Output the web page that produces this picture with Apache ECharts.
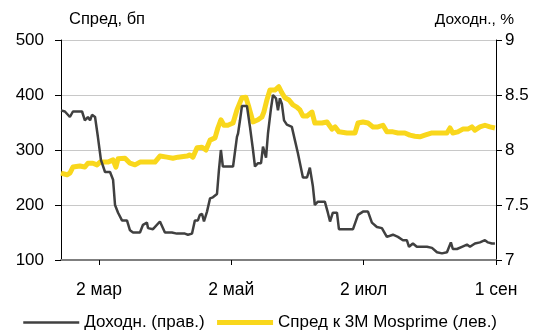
<!DOCTYPE html>
<html>
<head>
<meta charset="utf-8">
<script src="https://cdn.jsdelivr.net/npm/echarts@6/dist/echarts.min.js"></script>
<style>
  html, body { margin: 0; padding: 0; background: #fff; }
  #chart { width: 550px; height: 335px; }
</style>
</head>
<body>
<div id="chart"></div>
<script>
// x = day of year (0 = 1 Jan)
const tickDays = [60, 121, 182, 243];
const tickLabels = ['2 мар', '2 май', '2 июл', '1 сен'];

// yield, % (right axis)
const yieldDays = [42.5, 44.3, 46.6, 48.0, 52.2, 53.5, 54.9, 55.9, 56.8, 58.2, 59.5, 60.9, 62.8, 65.1,
  66.5, 67.4, 68.8, 70.6, 72.9, 74.3, 75.7, 78.9, 80.3, 82.1, 82.6, 84.9, 88.1, 90.4, 93.6, 95.9,
  97.3, 99.6, 101.0, 102.9, 104.2, 105.6, 106.5, 107.5, 108.4, 109.8, 110.2, 111.2, 112.5, 114.4,
  115.3, 116.2, 117.1, 119.4, 121.8, 123.6, 124.1, 125.0, 125.9, 128.2, 129.6, 131.0, 131.9, 133.3,
  134.7, 135.6, 137.0, 137.9, 139.3, 140.2, 141.6, 142.5, 143.4, 144.3, 145.3, 146.6, 148.9, 150.3,
  151.7, 152.6, 154.0, 155.9, 157.2, 158.6, 159.5, 160.9, 164.1, 165.5, 166.5, 167.8, 169.7, 170.6,
  173.4, 177.1, 179.4, 181.7, 184.0, 185.8, 188.1, 190.4, 192.7, 195.5, 197.8, 200.1, 201.9, 202.9,
  204.7, 206.5, 208.8, 211.2, 213.5, 215.8, 218.1, 220.4, 222.2, 223.1, 225.0, 227.3, 229.6, 231.0,
  233.3, 235.6, 237.9, 239.3, 241.1, 242.5];
const yieldVals = [8.36, 8.35, 8.30, 8.35, 8.35, 8.27, 8.30, 8.27, 8.32, 8.30, 8.12, 7.91, 7.80, 7.80,
  7.73, 7.50, 7.43, 7.36, 7.36, 7.27, 7.25, 7.25, 7.32, 7.34, 7.29, 7.28, 7.35, 7.25, 7.25, 7.24,
  7.24, 7.24, 7.23, 7.24, 7.36, 7.36, 7.41, 7.42, 7.35, 7.44, 7.43, 7.56, 7.57, 7.60,
  7.82, 8.00, 7.85, 7.85, 7.85, 8.12, 8.15, 8.27, 8.40, 8.40, 8.21, 8.00, 7.85, 7.88,
  7.88, 8.03, 7.93, 8.15, 8.38, 8.50, 8.47, 8.36, 8.47, 8.42, 8.27, 8.23, 8.21, 8.09,
  7.97, 7.97, 7.75, 7.75, 7.84, 7.67, 7.50, 7.53, 7.53, 7.43, 7.35, 7.43, 7.43, 7.28,
  7.28, 7.28, 7.41, 7.44, 7.44, 7.34, 7.30, 7.29, 7.21, 7.23, 7.21, 7.18, 7.18, 7.12,
  7.15, 7.12, 7.12, 7.12, 7.11, 7.07, 7.06, 7.07, 7.16, 7.10, 7.10, 7.12, 7.14, 7.12,
  7.15, 7.16, 7.18, 7.16, 7.15, 7.15];

// spread to 3M Mosprime, bp (left axis)
const spreadDays = [42.5, 45.3, 46.6, 48.0, 51.2, 53.5, 54.9, 57.2, 59.1, 60.5, 64.1, 66.5, 67.8, 68.8,
  72.0, 74.3, 76.6, 77.5, 78.9, 82.1, 85.8, 88.1, 91.3, 94.1, 96.4, 100.6, 101.9, 103.3, 105.2,
  107.5, 109.3, 111.2, 113.5, 114.8, 116.2, 117.6, 119.4, 121.8, 123.6, 125.9, 127.7, 129.1, 131.0,
  133.3, 135.1, 136.0, 137.4, 138.8, 141.1, 142.9, 144.3, 145.7, 147.6, 149.4, 151.2, 152.6, 154.0,
  155.9, 158.2, 159.5, 162.8, 165.1, 167.4, 168.8, 170.6, 174.3, 178.0, 179.4, 181.7, 184.0, 186.3,
  188.6, 190.9, 192.7, 195.5, 197.8, 201.0, 203.3, 205.6, 207.9, 210.2, 213.5, 217.1, 220.4, 221.8,
  223.1, 225.4, 227.7, 230.0, 231.9, 233.3, 235.6, 237.9, 240.2, 242.5];
const spreadVals = [258, 255, 258, 269, 271, 269, 276, 276, 273, 278, 278, 282, 269, 284,
  285, 276, 273, 276, 278, 278, 278, 289, 287, 285, 287, 289, 291, 287, 304,
  305, 300, 318, 322, 340, 355, 345, 345, 349, 373, 395, 396, 378, 351,
  355, 360, 369, 391, 409, 409, 415, 404, 395, 391, 382, 378, 373, 362,
  362, 369, 349, 349, 351, 338, 342, 333, 331, 331, 349, 351, 349, 342,
  342, 345, 333, 333, 331, 331, 327, 325, 324, 327, 331, 331, 331, 340,
  331, 333, 338, 338, 342, 336, 342, 345, 342, 340];

const FONT = 'Liberation Sans, Arial, sans-serif';

let chart = echarts.init(document.getElementById('chart'));
let option = {
  animation: false,
  grid: {
    left: 61,
    right: 54,
    top: 40,
    bottom: 75,
  },
  legend: {
    left: 17,
    top: 309,
    itemWidth: 56,
    itemHeight: 14,
    itemGap: 10,
    data: [
      { name: 'Доходн. (прав.)', lineStyle: { width: 2.5 } },
      { name: 'Спред к 3М Mosprime (лев.)', lineStyle: { width: 5 } },
    ],
    itemStyle: { opacity: 0 },
    textStyle: {
      fontFamily: FONT,
      fontSize: 17,
      color: '#000',
    },
  },
  xAxis: {
    type: 'value',
    min: 42.5,
    max: 243,
    axisLine: {
      onZero: false,
      lineStyle: { color: '#7f7f7f', width: 2 },
    },
    axisTick: {
      customValues: tickDays,
      length: 5,
      lineStyle: { color: '#000', width: 1 },
    },
    axisLabel: {
      customValues: tickDays,
      margin: 21,
      color: '#000',
      fontFamily: FONT,
      fontSize: 17.5,
      formatter: (v) => {
        let i = tickDays.indexOf(v);
        return i >= 0 ? tickLabels[i] : '';
      },
    },
    splitLine: { show: false },
  },
  yAxis: [
    {
      type: 'value',
      min: 100,
      max: 500,
      interval: 100,
      name: 'Спред, бп',
      nameLocation: 'end',
      nameGap: 12,
      nameTextStyle: {
        fontFamily: FONT,
        fontSize: 16.5,
        color: '#000',
        align: 'left',
        padding: [0, 0, 0, 8],
      },
      axisLine: { show: true, lineStyle: { color: '#000', width: 1 } },
      axisTick: { show: true, length: 6, lineStyle: { color: '#000' } },
      axisLabel: {
        margin: 17,
        color: '#000',
        fontFamily: FONT,
        fontSize: 17,
      },
      splitLine: { lineStyle: { color: '#c8c8c8', width: 1 } },
    },
    {
      type: 'value',
      min: 7,
      max: 9,
      interval: 0.5,
      name: 'Доходн., %',
      nameLocation: 'end',
      nameGap: 12,
      nameTextStyle: {
        fontFamily: FONT,
        fontSize: 15.5,
        color: '#000',
        align: 'right',
        padding: [0, -18, 0, 0],
      },
      axisLine: { show: true, lineStyle: { color: '#000', width: 1 } },
      axisTick: { show: true, length: 6, lineStyle: { color: '#000' } },
      axisLabel: {
        margin: 9,
        color: '#000',
        fontFamily: FONT,
        fontSize: 17,
      },
      splitLine: { show: false },
    },
  ],
  series: [
    {
      name: 'Спред к 3М Mosprime (лев.)',
      type: 'line',
      yAxisIndex: 0,
      symbol: 'none',
      z: 2,
      lineStyle: { color: '#f9d71c', width: 5, join: 'round' },
      itemStyle: { color: '#f9d71c' },
      data: spreadDays.map((d, i) => [d, spreadVals[i]]),
    },
    {
      name: 'Доходн. (прав.)',
      type: 'line',
      yAxisIndex: 1,
      symbol: 'none',
      z: 3,
      lineStyle: { color: '#404040', width: 2.5 },
      itemStyle: { color: '#404040' },
      data: yieldDays.map((d, i) => [d, yieldVals[i]]),
    },
  ],
};
chart.setOption(option);
</script>
</body>
</html>
